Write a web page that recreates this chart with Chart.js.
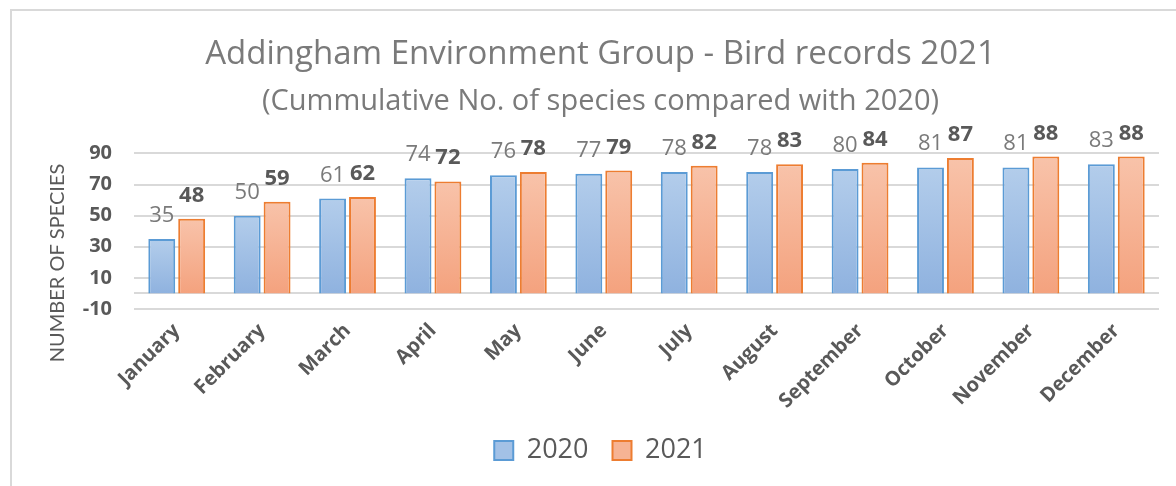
<!DOCTYPE html>
<html>
<head>
<meta charset="utf-8">
<script src="https://cdn.jsdelivr.net/npm/chart.js@4.4.1/dist/chart.umd.min.js"></script>
<style>
  html, body { margin:0; padding:0; background:#fff; }
  #wrap { position:relative; width:1176px; height:486px; overflow:hidden; }
  #frame { position:absolute; left:10px; top:9px; width:1300px; height:600px;
           border-left:2px solid #d9d9d9; border-top:2px solid #d9d9d9; }
  #chart { position:absolute; left:0; top:0; }
</style>
</head>
<body>
<div id="wrap">
  <div id="frame"></div>
  <canvas id="chart" width="1176" height="486"></canvas>
</div>
<script>
/* ---------- data ---------- */
const months = ["January","February","March","April","May","June",
                "July","August","September","October","November","December"];
const species2020 = [35,50,61,74,76,77,78,78,80,81,81,83];
const species2021 = [48,59,62,72,78,79,82,83,84,87,88,88];
const yTicks = [-10,10,30,50,70,90];

const FONT = "'Open Sans', sans-serif";
const GREY = "#595959";
const PAD_LEFT = 42;

// vertical gradient from bar top to the zero line
function barFill(top, bottom){
  return (ctx)=>{
    const chart = ctx.chart;
    if(ctx.type !== "data" || !chart.chartArea) return top;
    const y = chart.scales.y;
    const y0 = y.getPixelForValue(ctx.raw);
    const y1 = y.getPixelForValue(0);
    const g = chart.ctx.createLinearGradient(0, y0, 0, y1);
    g.addColorStop(0, top);
    g.addColorStop(1, bottom);
    return g;
  };
}

/* ---------- small plugins ---------- */
const zeroLine = {
  id:"zeroLine",
  beforeDatasetsDraw(chart){
    const {ctx, chartArea, scales} = chart;
    const y = Math.round(scales.y.getPixelForValue(0));
    ctx.save();
    ctx.strokeStyle = "#d9d9d9";
    ctx.lineWidth = 2;
    ctx.beginPath();
    ctx.moveTo(chartArea.left, y);
    ctx.lineTo(chartArea.right, y);
    ctx.stroke();
    ctx.restore();
  }
};

const valueLabels = {
  id:"valueLabels",
  afterDatasetsDraw(chart){
    const ctx = chart.ctx;
    ctx.save();
    ctx.textAlign = "center";
    ctx.textBaseline = "alphabetic";
    chart.data.datasets.forEach((ds, i)=>{
      const meta = chart.getDatasetMeta(i);
      ctx.font = (i === 1 ? "bold " : "") + "22px " + FONT;
      ctx.fillStyle = i === 1 ? GREY : "#7a7a7a";
      meta.data.forEach((bar, j)=>{
        ctx.fillText(ds.data[j], bar.x, bar.y - 17);
      });
    });
    ctx.restore();
  }
};

const yTitle = {
  id:"yTitle",
  afterDraw(chart){
    const ctx = chart.ctx;
    ctx.save();
    ctx.translate(58, 263);
    ctx.rotate(-Math.PI/2);
    ctx.font = "20px Lato, sans-serif";
    ctx.fillStyle = GREY;
    ctx.textAlign = "center";
    ctx.textBaseline = "middle";
    ctx.fillText("NUMBER OF SPECIES", 0, 0);
    ctx.restore();
  }
};

/* ---------- chart ---------- */
new Chart(document.getElementById("chart"),{
  type:"bar",
  data:{
    labels:months,
    datasets:[
      {
        label:"2020",
        data:species2020,
        backgroundColor:barFill("#b3cdeb","#8fb2df"),
        borderColor:"#5b9bd5",
        borderWidth:2
      },
      {
        label:"2021",
        data:species2021,
        backgroundColor:barFill("#f8c3aa","#f4a27e"),
        borderColor:"#ed7d31",
        borderWidth:2
      }
    ]
  },
  options:{
    responsive:false,
    animation:false,
    devicePixelRatio:1,
    categoryPercentage:0.7,
    barPercentage:0.9,
    layout:{ padding:{ left:PAD_LEFT, right:17, top:0, bottom:12 } },
    plugins:{
      title:{
        display:true,
        text:"Addingham Environment Group - Bird records 2021",
        color:"#7a7a7a",
        font:{ family:FONT, size:33, weight:"normal" },
        padding:{ top:35, bottom:10 }
      },
      subtitle:{
        display:true,
        text:"(Cummulative No. of species compared with 2020)",
        color:"#7a7a7a",
        font:{ family:FONT, size:29, weight:"normal" },
        padding:{ top:0, bottom:34 }
      },
      legend:{
        position:"bottom",
        labels:{
          color:GREY,
          font:{ family:FONT, size:27 },
          boxWidth:19,
          boxHeight:19,
          padding:24,
          generateLabels(chart){
            const fills = ["#a3c1e6","#f6b394"];
            return chart.data.datasets.map((ds,i)=>({
              text:ds.label,
              fillStyle:fills[i],
              strokeStyle:ds.borderColor,
              lineWidth:2,
              fontColor:GREY,
              datasetIndex:i,
              hidden:false
            }));
          }
        }
      },
      tooltip:{ enabled:false }
    },
    scales:{
      x:{
        grid:{ display:false },
        border:{ display:false },
        ticks:{
          color:GREY,
          font:{ family:FONT, size:20, weight:"bold" },
          minRotation:45,
          maxRotation:45,
          autoSkip:false,
          padding:2
        },
        afterFit(scale){ scale.height = 104; }
      },
      y:{
        min:-10,
        max:90,
        afterBuildTicks(scale){ scale.ticks = yTicks.map(v=>({value:v})); },
        afterFit(scale){ scale.width = 134 - PAD_LEFT; },
        grid:{ color:"#d9d9d9", lineWidth:2, drawTicks:false },
        border:{ display:false },
        ticks:{
          color:GREY,
          padding:22,
          font:{ family:FONT, size:20, weight:"bold" }
        }
      }
    }
  },
  plugins:[zeroLine, valueLabels, yTitle]
});
</script>
</body>
</html>
